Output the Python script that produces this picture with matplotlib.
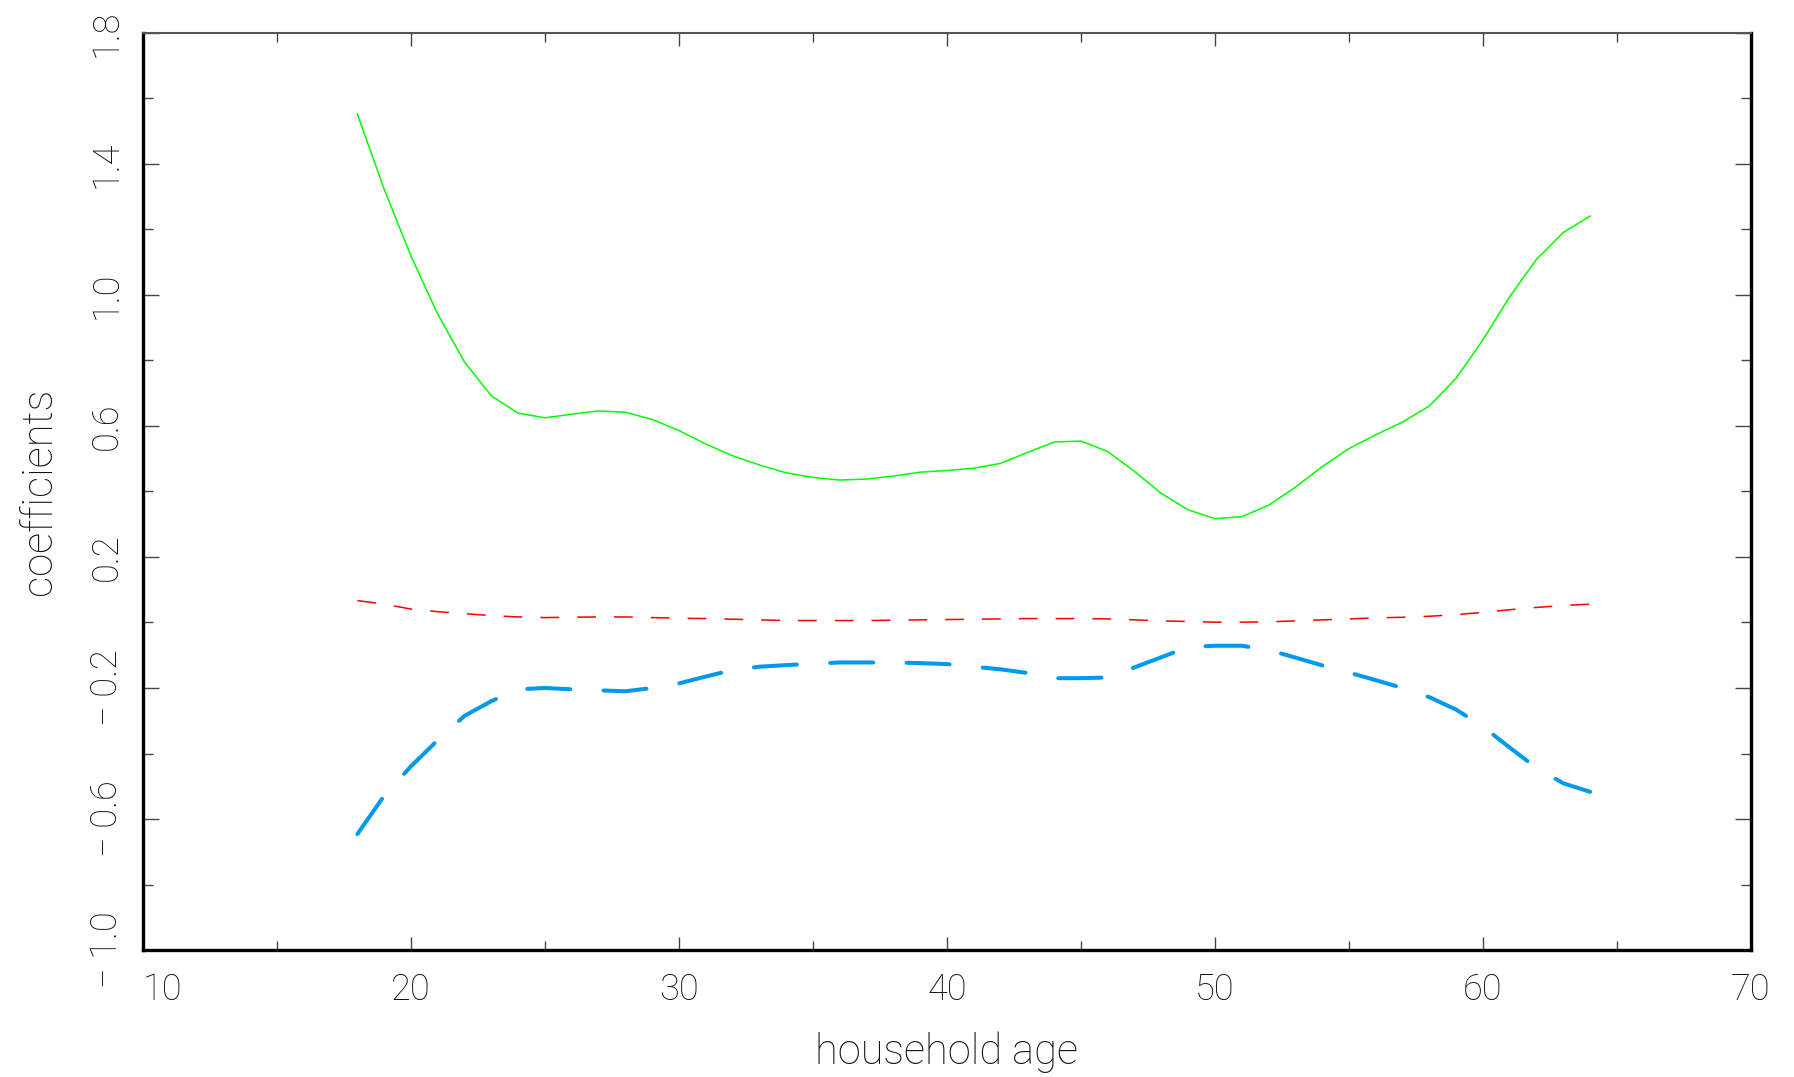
import matplotlib
matplotlib.use("Agg")
import matplotlib.pyplot as plt
from matplotlib.ticker import MultipleLocator, FixedLocator, FuncFormatter

plt.rcParams['font.family'] = ['Roboto', 'DejaVu Sans']
plt.rcParams['font.weight'] = 'light'
plt.rcParams['axes.labelweight'] = 'light'
plt.rcParams['lines.scale_dashes'] = False

# household age 18..64
age = list(range(18, 65))

green = [1.552, 1.323, 1.119, 0.941, 0.795, 0.692, 0.639, 0.625, 0.636, 0.646,
         0.642, 0.620, 0.586, 0.545, 0.509, 0.481, 0.457, 0.443, 0.435, 0.438,
         0.447, 0.459, 0.464, 0.471, 0.486, 0.519, 0.551, 0.554, 0.522, 0.461,
         0.394, 0.344, 0.317, 0.323, 0.358, 0.413, 0.476, 0.531, 0.573, 0.612,
         0.661, 0.746, 0.863, 0.995, 1.109, 1.191, 1.241]

red = [0.067, 0.056, 0.041, 0.033, 0.027, 0.021, 0.017, 0.015, 0.016, 0.017,
       0.017, 0.015, 0.013, 0.012, 0.010, 0.008, 0.006, 0.006, 0.006, 0.006,
       0.007, 0.008, 0.009, 0.010, 0.011, 0.012, 0.012, 0.012, 0.011, 0.008,
       0.005, 0.003, 0.001, 0.001, 0.002, 0.005, 0.008, 0.011, 0.014, 0.016,
       0.019, 0.024, 0.031, 0.039, 0.046, 0.052, 0.056]

blue = [-0.646, -0.529, -0.439, -0.359, -0.285, -0.240, -0.204, -0.200, -0.204, -0.207,
        -0.210, -0.200, -0.186, -0.165, -0.145, -0.135, -0.130, -0.126, -0.122, -0.122,
        -0.122, -0.124, -0.127, -0.135, -0.143, -0.154, -0.170, -0.170, -0.168, -0.137,
        -0.106, -0.075, -0.071, -0.071, -0.084, -0.107, -0.131, -0.153, -0.176, -0.200,
        -0.228, -0.266, -0.318, -0.382, -0.444, -0.491, -0.517]

fig = plt.figure(figsize=(17.94, 10.77), dpi=100)
ax = fig.add_axes([0.0797, 0.1179, 0.8963, 0.8515])

ax.plot(age, green, color='#00ff00', lw=1.1)
ax.plot(age, red, color='#ff0000', lw=1.1, dashes=(13.5, 13))
ax.plot(age, blue, color='#0099ee', lw=2.9, dashes=(31, 24), dash_capstyle='round')

ax.set_xlim(10, 70)
ax.set_ylim(-1.0, 1.8)
ax.xaxis.set_major_locator(FixedLocator([10, 20, 30, 40, 50, 60, 70]))
ax.xaxis.set_minor_locator(MultipleLocator(5))
ax.yaxis.set_major_locator(FixedLocator([-1.0, -0.6, -0.2, 0.2, 0.6, 1.0, 1.4, 1.8]))
ax.yaxis.set_minor_locator(MultipleLocator(0.2))
ax.yaxis.set_major_formatter(FuncFormatter(lambda v, p: ('%.1f' % v).replace('-', '\u2212 ')))

for side in ['left', 'bottom', 'right']:
    ax.spines[side].set_linewidth(2.4)
ax.spines['top'].set_linewidth(1.5)
ax.spines['top'].set_color('#555555')

ax.tick_params(which='both', direction='in', top=True, right=True,
               color='#444444', width=1.0, labelcolor='#111111', labelsize=26)
ax.tick_params(axis='x', which='major', length=9.5, pad=16)
ax.tick_params(axis='x', which='minor', length=6.5)
ax.tick_params(axis='y', which='major', length=11.5, pad=13, labelrotation=90)
ax.tick_params(axis='y', which='minor', length=7)

ax.set_xlabel('household age', fontsize=30, color='#111111', labelpad=17)
ax.set_ylabel('coefficients', fontsize=30, color='#111111', labelpad=21)

# the "10" label sits a little right of its tick, as in the original
xl = ax.get_xticklabels()
xl[0].set_horizontalalignment('left')
for lab in ax.get_yticklabels():
    lab.set_verticalalignment('center')

fig.savefig('out.png', dpi=100)
